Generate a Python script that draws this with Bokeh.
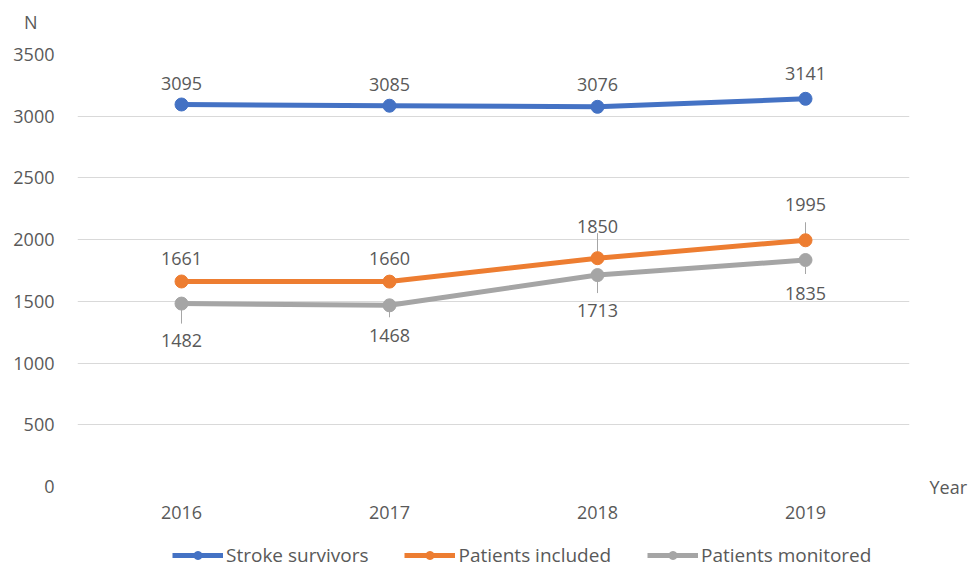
from bokeh.plotting import figure
from bokeh.layouts import column
from bokeh.models import (FactorRange, FixedTicker, Legend, LegendItem, LinearAxis,
                          ColumnDataSource, Range1d)
from bokeh.core.properties import value
from bokeh.embed import file_html
from bokeh.resources import INLINE

years = ["2016", "2017", "2018", "2019"]
stroke_survivors = [3095, 3085, 3076, 3141]
patients_included = [1661, 1660, 1850, 1995]
patients_monitored = [1482, 1468, 1713, 1835]
y_ticks = [0, 500, 1000, 1500, 2000, 2500, 3000, 3500]

FONT = "Open Sans"
TXT = "#595959"
FS = "18px"


def plain_axis(ax, size=FS):
    ax.axis_line_color = None
    ax.major_tick_line_color = None
    ax.minor_tick_line_color = None
    ax.major_label_text_font = FONT
    ax.major_label_text_font_size = size
    ax.major_label_text_color = TXT


# ---- top strip holding the "N" axis title ----
top = figure(width=970, height=40, output_backend="svg", toolbar_location=None,
             x_range=FactorRange(*years, range_padding=0), y_range=Range1d(0, 40),
             x_axis_location=None, y_axis_location="left", title=None,
             min_border_left=77, min_border_right=60, min_border_top=0, min_border_bottom=0)
top.outline_line_color = None
top.xgrid.grid_line_color = None
top.ygrid.grid_line_color = None
top.yaxis.ticker = FixedTicker(ticks=[19])
top.yaxis.major_label_overrides = {19: "N"}
plain_axis(top.yaxis[0])
top.yaxis[0].major_label_standoff = 34

# ---- main chart ----
p = figure(x_range=FactorRange(*years, range_padding=0), y_range=Range1d(0, 3500),
           width=970, height=495, output_backend="svg", toolbar_location=None,
           min_border_left=77, min_border_right=60, min_border_top=14, min_border_bottom=49,
           title=None)
p.outline_line_color = None
p.background_fill_color = "white"
p.border_fill_color = "white"

p.xgrid.grid_line_color = None
p.ygrid.grid_line_color = "#d9d9d9"
p.ygrid.grid_line_width = 1
p.yaxis.ticker = FixedTicker(ticks=y_ticks)

# right axis used only to show the "Year" label at the zero line
year_axis = LinearAxis(ticker=FixedTicker(ticks=[0]), major_label_overrides={0: "Year"})
p.add_layout(year_axis, "right")

for ax in (p.xaxis[0], p.yaxis[0], year_axis):
    plain_axis(ax)
p.yaxis[0].major_label_standoff = 17
p.xaxis[0].major_label_standoff = 13
year_axis.major_label_standoff = 14

series = [
    ("Stroke survivors", stroke_survivors, "#4472C4"),
    ("Patients included", patients_included, "#ED7D31"),
    ("Patients monitored", patients_monitored, "#A5A5A5"),
]

# label offsets in screen px (negative = above)
label_offsets = {
    "Stroke survivors": [-21, -21, -22, -25],
    "Patients included": [-23, -23, -32, -36],
    "Patients monitored": [37, 30, 35, 33],
}
# leader lines in screen px relative to point: (start, end); None = no line
leaders = {
    "Patients included": [None, None, (-25, -6), (-18, -5)],
    "Patients monitored": [(6, 20), (5, 12), (6, 18), (7, 14)],
}
units_per_px = 3500 / 432.0

for name, vals, col in series:
    src = ColumnDataSource(dict(x=years, y=vals, lab=[str(v) for v in vals],
                                off=label_offsets[name]))
    if name in leaders:
        xs0, ys0, ys1 = [], [], []
        for yr, v, ld in zip(years, vals, leaders[name]):
            if ld is None:
                continue
            xs0.append(yr)
            ys0.append(v - ld[0] * units_per_px)
            ys1.append(v - ld[1] * units_per_px)
        p.segment(x0=xs0, y0=ys0, x1=xs0, y1=ys1, line_color="#a6a6a6", line_width=1)
    p.line("x", "y", source=src, line_color=col, line_width=5)
    p.scatter("x", "y", source=src, size=13, fill_color=col, line_color=col)
    p.text("x", "y", text="lab", source=src, y_offset="off", text_align="center",
           text_baseline="middle", text_font=value(FONT), text_font_size=FS, text_color=TXT)

# ---- legend strip; its series sit outside its (empty) view ----
lg = figure(width=970, height=33, output_backend="svg", toolbar_location=None,
            x_range=FactorRange(*years, range_padding=0), y_range=Range1d(-2, -1),
            x_axis_location=None, y_axis_location=None, title=None,
            min_border_left=77, min_border_right=60, min_border_top=0, min_border_bottom=0)
lg.outline_line_color = None
lg.xgrid.grid_line_color = None
lg.ygrid.grid_line_color = None
items = []
for name, vals, col in series:
    r1 = lg.line(x=years, y=vals, line_color=col, line_width=5)
    r2 = lg.scatter(x=years, y=vals, size=13, fill_color=col, line_color=col)
    items.append(LegendItem(label=name, renderers=[r1, r2]))
legend = Legend(items=items, orientation="horizontal", location=(95, 0),
                label_text_font=FONT, label_text_font_size="19px", label_text_color=TXT,
                glyph_width=51, glyph_height=20, label_height=20, label_standoff=3,
                spacing=36, padding=0, margin=0, border_line_color=None,
                background_fill_alpha=0)
lg.add_layout(legend, "center")

open("out.html", "w").write(file_html(column(top, p, lg, spacing=0), INLINE))
